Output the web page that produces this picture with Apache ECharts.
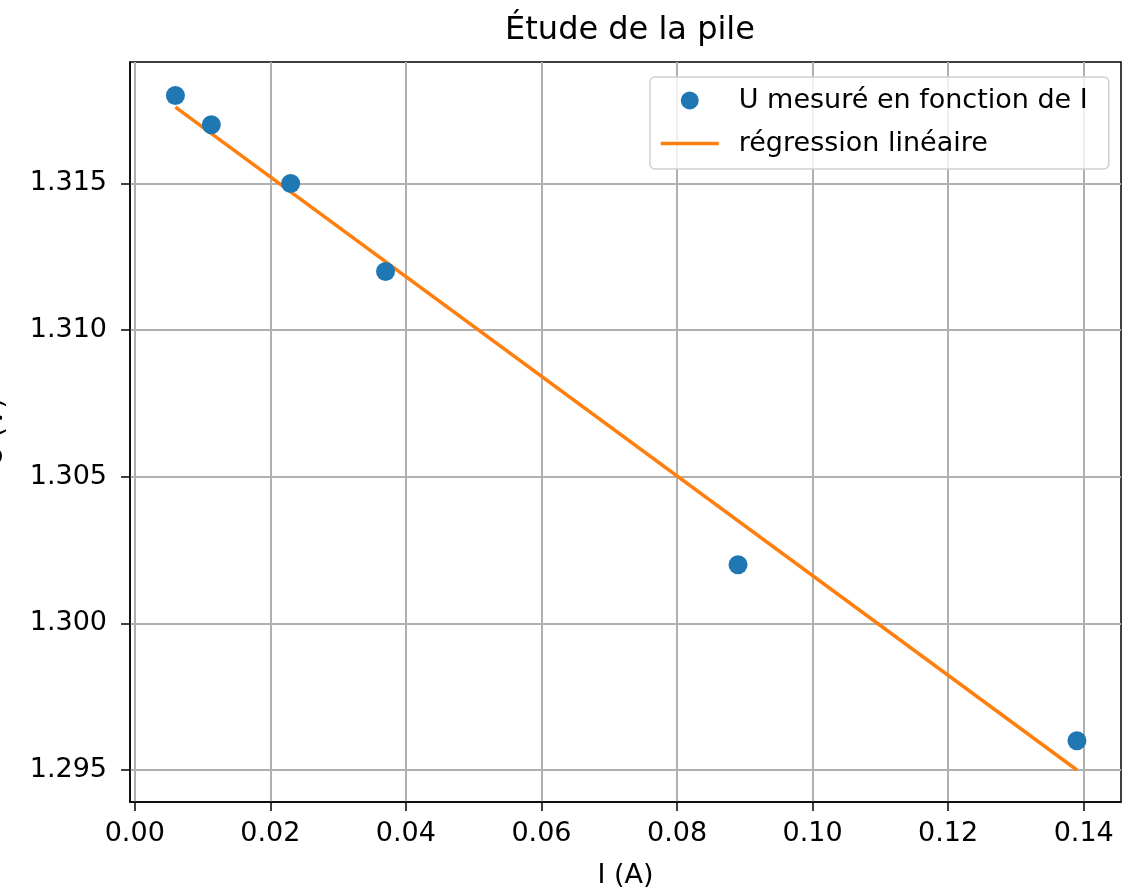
<!DOCTYPE html>
<html>
<head>
<meta charset="utf-8">
<script src="https://cdn.jsdelivr.net/npm/echarts@6/dist/echarts.min.js"></script>
<style>
  html, body { margin: 0; padding: 0; background: #fff; }
  #chart { width: 1122px; height: 889px; }
</style>
</head>
<body>
<div id="chart"></div>
<script>
// mesures (I en A, U en V)
const courant = [0.006, 0.0113, 0.023, 0.037, 0.089, 0.139];
const tension = [1.318, 1.317, 1.315, 1.312, 1.302, 1.296];
// droite de regression (extremites)
const regX = [0.006, 0.139];
const regY = [1.3176, 1.2950];
// graduations
const xTicks = [0, 0.02, 0.04, 0.06, 0.08, 0.10, 0.12, 0.14];
const yTicks = [1.295, 1.300, 1.305, 1.310, 1.315];

const font = "DejaVu Sans";
const dom = document.getElementById("chart");
const myChart = echarts.init(dom);

const points = courant.map((x, i) => [x, tension[i]]);
const regLine = regX.map((x, i) => [x, regY[i]]);

const option = {
  animation: false,
  title: {
    text: "Étude de la pile",
    left: 625,
    top: 10,
    textAlign: "center",
    textStyle: { fontFamily: font, fontSize: 32, fontWeight: "normal", color: "#000" },
  },
  legend: {
    orient: "vertical",
    left: 650,
    top: 77,
    padding: [10, 21, 12, 9],
    itemGap: 16,
    itemWidth: 58,
    itemHeight: 18,
    borderColor: "#d0d0d0",
    borderWidth: 1.5,
    borderRadius: 5,
    backgroundColor: "rgba(255,255,255,0.8)",
    textStyle: { fontFamily: font, fontSize: 27, color: "#000", lineHeight: 27, padding: [0, 0, 0, 15] },
    data: [
      { name: "U mesuré en fonction de I", icon: "circle" },
      {
        name: "régression linéaire",
        itemStyle: { color: "transparent", borderWidth: 0 },
        lineStyle: { color: "#ff7f0e", width: 3.5 },
      },
    ],
  },
  grid: {
    left: 130,
    right: 1,
    top: 62,
    bottom: 87,
    outerBoundsMode: "none",
    containLabel: false,
    show: true,
    borderColor: "#000",
    borderWidth: 1.5,
  },
  xAxis: {
    type: "value",
    min: -0.0007,
    max: 0.1455,
    name: "I (A)",
    nameLocation: "middle",
    nameGap: 60,
    nameTextStyle: { fontFamily: font, fontSize: 27, color: "#000" },
    axisLine: { show: true, onZero: false, lineStyle: { color: "#000", width: 1.5 } },
    axisTick: { show: true, length: 9, lineStyle: { color: "#000", width: 1.5 }, customValues: xTicks },
    axisLabel: {
      fontFamily: font, fontSize: 27, color: "#000", margin: 18,
      customValues: xTicks,
      formatter: (v) => v.toFixed(2),
    },
    splitLine: { show: true, lineStyle: { color: "#b0b0b0", width: 2 } },
  },
  yAxis: {
    type: "value",
    min: 1.29391,
    max: 1.31914,
    name: "U (V)",
    nameLocation: "middle",
    nameGap: 122,
    nameTextStyle: { fontFamily: font, fontSize: 27, color: "#000" },
    axisLine: { show: true, onZero: false, lineStyle: { color: "#000", width: 1.5 } },
    axisTick: { show: true, length: 9, lineStyle: { color: "#000", width: 1.5 }, customValues: yTicks },
    axisLabel: {
      fontFamily: font, fontSize: 27, color: "#000", margin: 23,
      customValues: yTicks,
      formatter: (v) => v.toFixed(3),
    },
    splitLine: { show: true, lineStyle: { color: "#b0b0b0", width: 2 } },
  },
  series: [
    {
      name: "U mesuré en fonction de I",
      type: "scatter",
      data: points,
      symbol: "circle",
      symbolSize: 19,
      itemStyle: { color: "#1f77b4", opacity: 1 },
      z: 3,
    },
    {
      name: "régression linéaire",
      type: "line",
      data: regLine,
      symbol: "none",
      lineStyle: { color: "#ff7f0e", width: 3.5 },
      itemStyle: { color: "#ff7f0e" },
      z: 2,
    },
  ],
};

myChart.setOption(option);
</script>
</body>
</html>
